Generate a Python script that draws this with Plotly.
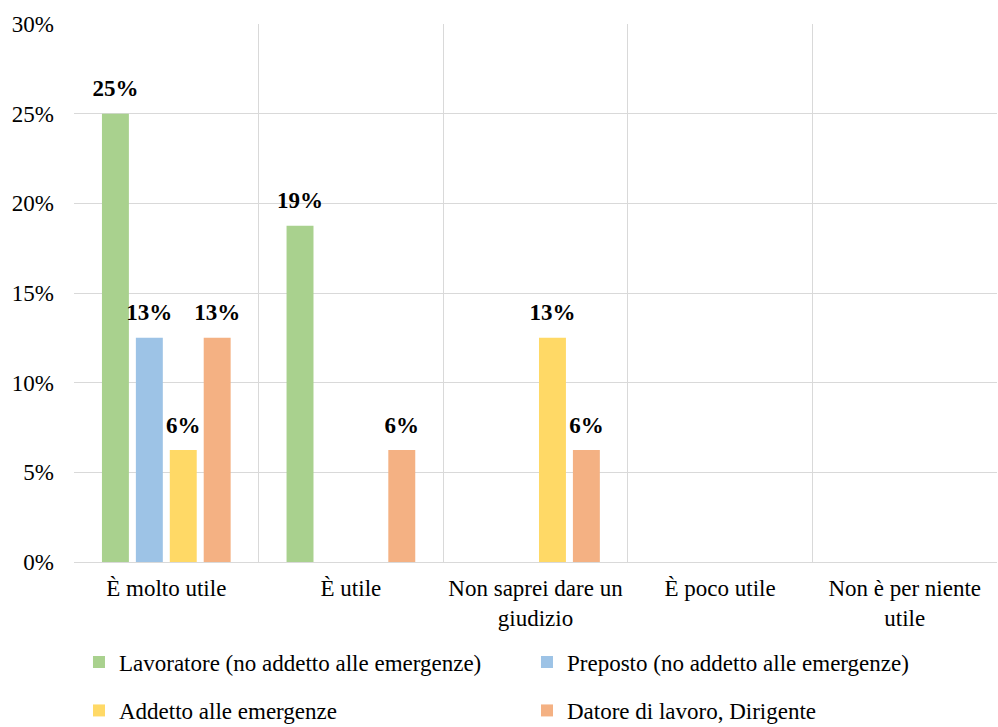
import plotly.graph_objects as go

categories = ["È molto utile", "È utile", "Non saprei dare un<br>giudizio",
              "È poco utile", "Non è per niente<br>utile"]
series_names = ["Lavoratore (no addetto alle emergenze)",
                "Preposto (no addetto alle emergenze)",
                "Addetto alle emergenze",
                "Datore di lavoro, Dirigente"]
lavoratore = [25.0, 18.75, 0.0, 0.0, 0.0]
preposto = [12.5, 0.0, 0.0, 0.0, 0.0]
addetto = [6.25, 0.0, 12.5, 0.0, 0.0]
datore = [12.5, 6.25, 6.25, 0.0, 0.0]
colors = ["#A9D18E", "#9DC3E6", "#FFD966", "#F4B183"]
y_ticks = [0, 5, 10, 15, 20, 25, 30]

FONT = "Liberation Serif"
FS = 23
GRID = "#d9d9d9"
GAP = 0.265


def pct_label(v):
    return f"{int(v + 0.5)}%" if v > 0 else ""


all_series = [lavoratore, preposto, addetto, datore]

fig = go.Figure()
for i, (name, vals) in enumerate(zip(series_names, all_series)):
    fig.add_trace(go.Bar(
        x=categories, y=vals, name=name,
        marker=dict(color=colors[i], line=dict(width=0)),
        legend="legend" if i < 2 else "legend2",
        hoverinfo="skip",
    ))

# value labels, grouped the same way as the bars so each sits on its bar
for i, vals in enumerate(all_series):
    fig.add_trace(go.Scatter(
        x=categories, y=vals, mode="markers+text",
        text=[pct_label(v) for v in vals],
        textposition="top center",
        textfont=dict(family=FONT, size=FS, color="black", weight="bold"),
        marker=dict(size=17, opacity=0),
        cliponaxis=False, showlegend=False, hoverinfo="skip",
    ))

fig.update_layout(
    width=998, height=727,
    margin=dict(l=74, r=1, t=24, b=165, autoexpand=False),
    paper_bgcolor="white", plot_bgcolor="white",
    font=dict(family=FONT, size=FS, color="black"),
    barmode="group", bargap=GAP, bargroupgap=0.206,
    scattermode="group", scattergap=GAP,
    xaxis=dict(type="category", tickson="boundaries", showgrid=True,
               gridcolor=GRID, gridwidth=1.4, ticks="", showline=False,
               automargin=False, ticklabelstandoff=10,
               tickfont=dict(family=FONT, size=FS)),
    yaxis=dict(range=[0, 30], tickvals=y_ticks,
               ticktext=[f"{t}%" for t in y_ticks],
               showgrid=True, gridcolor=GRID, gridwidth=1.4,
               zeroline=True, zerolinecolor=GRID, zerolinewidth=1.4,
               ticks="", ticklabelstandoff=19, automargin=False,
               tickfont=dict(family=FONT, size=FS)),
    legend=dict(orientation="h", x=0.0054, xanchor="left", y=-0.186,
                yanchor="middle", entrywidth=403, entrywidthmode="pixels",
                font=dict(family=FONT, size=FS), traceorder="normal"),
    legend2=dict(orientation="h", x=0.0054, xanchor="left", y=-0.276,
                 yanchor="middle", entrywidth=403, entrywidthmode="pixels",
                 font=dict(family=FONT, size=FS), traceorder="normal"),
)

fig.write_html("out.html")
